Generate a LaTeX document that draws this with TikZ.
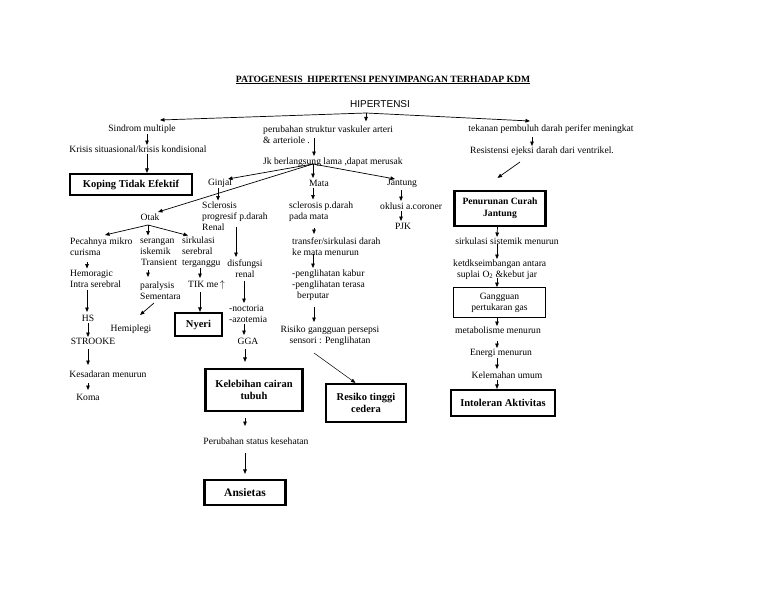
\documentclass[tikz,border=0pt]{standalone}
\usepackage{fontspec}
\setmainfont{Liberation Serif}
\newfontfamily\hipfont{Liberation Sans}
\usetikzlibrary{arrows.meta}
\begin{document}
\begin{tikzpicture}[x=1pt,y=-1pt,
  txt/.style={font=\fontsize{9.6}{11}\selectfont, inner sep=0pt, align=left},
  ctxt/.style={txt, align=center},
  kbox/.style={draw, line width=2.2pt, inner sep=0pt, align=center,
               font=\bfseries\fontsize{10.5}{11.5}\selectfont},
  tbox/.style={draw, line width=0.8pt, inner sep=0pt, align=center,
               font=\fontsize{9.6}{11}\selectfont},
  arr/.style={-{Triangle[length=4.5pt,width=3.6pt]}, line width=0.7pt}]
\useasboundingbox (0,0) rectangle (768,594);
\fill[white] (0,0) rectangle (768,594);

% ---------- title ----------
\node[font=\bfseries\fontsize{9.6}{11}\selectfont, inner sep=0pt] (title) at (383,80)
  {\underline{PATOGENESIS\ \ HIPERTENSI PENYIMPANGAN TERHADAP KDM}};
\node[font=\hipfont\fontsize{10}{12}\selectfont, inner sep=0pt] (hip) at (380,104) {HIPERTENSI};
\coordinate (apex) at (366,113);

% ---------- level 1 ----------
\node[txt] (sindrom) at (142,129) {Sindrom multiple};
\node[txt, anchor=west] (perubahan) at (263,134.5) {perubahan struktur vaskuler arteri\\\& arteriole .};
\node[txt] (tekanan) at (551,129) {tekanan pembuluh darah perifer meningkat};

\node[txt] (krisis) at (138,149) {Krisis situasional/krisis kondisional};
\node[txt, anchor=west] (jk) at (263,162) {Jk berlangsung lama ,dapat merusak};
\node[txt] (resist) at (542,151) {Resistensi ejeksi darah dari ventrikel.};

\node[kbox, minimum width=122, minimum height=21] (koping) at (131,184.5) {Koping Tidak Efektif};
\node[txt] (ginjal) at (220,183) {Ginjal};
\node[txt] (mata) at (319,183) {Mata};
\node[txt] (jantung) at (402,183) {Jantung};
\node[kbox, minimum width=91, minimum height=35, font=\bfseries\fontsize{9.6}{12}\selectfont] (penurunan) at (500,208.5) {Penurunan Curah\\Jantung};

% ---------- organs ----------
\node[txt] (otak) at (150,217) {Otak};
\node[txt, anchor=west] (sclerosis) at (202,216.5) {Sclerosis\\progresif p.darah\\Renal};
\node[txt, anchor=west] (sclmata) at (289,211.5) {sclerosis p.darah\\pada mata};
\node[txt, anchor=west] (oklusi) at (380,206) {oklusi a.coroner};
\node[txt] (pjk) at (403,226) {PJK};

\node[txt, anchor=west] (pecah) at (70,247) {Pecahnya mikro\\curisma};
\node[txt, anchor=west] (serangan) at (140,252.5) {serangan\\iskemik\\\hspace{1pt}Transient};
\node[txt, anchor=west] (sirkulasi) at (182,252.5) {sirkulasi\\serebral\\terganggu};
\node[ctxt] (disf) at (245,268.5) {disfungsi\\renal};
\node[txt, anchor=west] (transfer) at (292,246.5) {transfer/sirkulasi darah\\ke mata menurun};
\node[txt] (sirksis) at (507,241) {sirkulasi sistemik menurun};
\node[txt, anchor=west] (ketdk) at (453,269.5) {ketdkseimbangan antara\\\hspace{4pt}suplai O\textsubscript{2} \&kebut jar};

\node[txt, anchor=west] (hemo) at (70,278.5) {Hemoragic\\Intra serebral};
\node[txt, anchor=west] (paral) at (140,291) {paralysis\\Sementara};
\node[txt, anchor=west] (tik) at (188,285) {TIK me\,$\uparrow$};
\node[tbox, minimum width=92, minimum height=30] (gangguan) at (499.5,302.5) {Gangguan\\pertukaran gas};
\node[txt, anchor=west] (penglihatan) at (292,285) {-penglihatan kabur\\-penglihatan terasa\\\hspace{5pt}berputar};
\node[txt, anchor=west] (noct) at (229,313.5) {-noctoria\\-azotemia};

\node[txt] (hs) at (88,318) {HS};
\node[kbox, minimum width=47, minimum height=23] (nyeri) at (198.5,324.5) {Nyeri};
\node[txt] (hemi) at (131,329) {Hemiplegi};
\node[ctxt] (risiko) at (330,335.5) {Risiko gangguan persepsi\\sensori : Penglihatan};
\node[txt] (metab) at (498,330) {metabolisme menurun};
\node[txt] (stroke) at (93,341) {STROOKE};
\node[txt] (gga) at (248,341) {GGA};
\node[txt] (energi) at (501,353) {Energi menurun};
\node[txt] (kesadaran) at (108,374) {Kesadaran menurun};
\node[txt] (kelemahan) at (507,375) {Kelemahan umum};

\node[kbox, minimum width=97, minimum height=42] (kelebihan) at (254,390) {Kelebihan cairan\\tubuh};
\node[kbox, minimum width=80, minimum height=38] (resiko) at (366,403) {Resiko tinggi\\cedera};
\node[kbox, minimum width=104, minimum height=26] (intoleran) at (503,403) {Intoleran Aktivitas};
\node[txt] (koma) at (88,397) {Koma};
\node[txt] (perub) at (256,441) {Perubahan status kesehatan};
\node[kbox, minimum width=81, minimum height=25, font=\bfseries\fontsize{11.5}{13}\selectfont] (ansietas) at (245,492.5) {Ansietas};

% ---------- connectors ----------
\draw[arr] (apex) -- ([shift={(18,-9)}]sindrom.center);
\draw[arr] (apex) -- ([shift={(-21,-8)}]tekanan.center);
\draw[arr] (apex) -- ([shift={(103,-4)}]perubahan.north west);

\draw[arr] ([shift={(5,5)}]sindrom.center) -- ([shift={(9,-4)}]krisis.center);
\draw[arr] ([shift={(9,5)}]krisis.center) -- ([xshift=16]koping.north);

\draw[arr] ([shift={(51,3.5)}]perubahan.west) -- ([shift={(51,-6)}]jk.west);
\coordinate (jkfan) at ([shift={(50,2)}]jk.west);
\draw[arr] (jkfan) -- ([shift={(8,-4)}]ginjal.center);
\draw[arr] (jkfan) -- ([shift={(8,-5)}]otak.center);
\draw[arr] (jkfan) -- ([shift={(-6,-5)}]mata.center);
\draw[arr] (jkfan) -- ([shift={(-7,-4)}]jantung.center);

\draw[arr] ([shift={(-2,5)}]ginjal.center) -- ([shift={(16,-16)}]sclerosis.west);
\draw[arr] ([shift={(-6,5)}]mata.center) -- ([shift={(24,-12)}]sclmata.west);
\draw[arr] ([shift={(-1,7)}]jantung.center) -- ([shift={(21,-5)}]oklusi.west);
\draw[arr] ([shift={(21,5)}]oklusi.west) -- ([shift={(-2,-5)}]pjk.center);

\coordinate (otakfan) at ([shift={(-2,8)}]otak.center);
\draw[arr] (otakfan) -- ([shift={(35,-12)}]pecah.west);
\draw[arr] (otakfan) -- ([shift={(8,-17)}]serangan.west);
\draw[arr] (otakfan) -- ([shift={(6,-17)}]sirkulasi.west);

\draw[arr] ([shift={(17,15)}]pecah.west) -- ([shift={(17,-10)}]hemo.west);
\draw[arr] ([shift={(17,11.5)}]hemo.west) -- ([shift={(-1,-6)}]hs.center);
\draw[arr] ([shift={(0,5)}]hs.center) -- ([shift={(-5,-4)}]stroke.center);
\draw[arr] ([shift={(-5,8)}]stroke.center) -- ([shift={(-20,-9)}]kesadaran.center);
\draw[arr] ([shift={(-20,9)}]kesadaran.center) -- ([shift={(0,-7)}]koma.center);
\draw[arr] ([shift={(8,17.5)}]serangan.west) -- ([shift={(8,-14)}]paral.west);
\draw[arr] ([shift={(14,12)}]paral.west) -- ([shift={(9,-14)}]hemi.center);
\draw[arr] ([shift={(18,15.5)}]sirkulasi.west) -- ([shift={(12,-7)}]tik.west);
\draw[arr] ([shift={(12,7)}]tik.west) -- ([xshift=1.5]nyeri.north);

\draw[arr] ([shift={(34,10)}]sclerosis.west) -- ([shift={(-9,-11.5)}]disf.center);
\draw[arr] ([shift={(-1,12.5)}]disf.center) -- ([shift={(15,-10.5)}]noct.west);
\draw[arr] ([shift={(15,10.5)}]noct.west) -- ([shift={(-4,-6)}]gga.center);
\draw[arr] ([shift={(-3,8)}]gga.center) -- ([shift={(-9,-6)}]kelebihan.north);
\draw[arr] ([shift={(-9,6)}]kelebihan.south) -- ([shift={(-11,-15)}]perub.center);
\draw[arr] ([shift={(-11,12)}]perub.center) -- ([shift={(0,-5)}]ansietas.north);

\draw[arr] ([shift={(25,16.5)}]sclmata.west) -- ([shift={(22,-12.5)}]transfer.west);
\draw[arr] ([shift={(21,7.5)}]transfer.west) -- ([shift={(21,-17)}]penglihatan.west);
\draw[arr] ([shift={(22,22)}]penglihatan.west) -- ([shift={(-16,-13.5)}]risiko.center);
\draw[arr, line width=0.5pt] ([shift={(-16,17.5)}]risiko.center) -- ([xshift=-10.5]resiko.north);

\draw[arr] ([shift={(-19,8)}]tekanan.center) -- ([shift={(-10,-5)}]resist.center);
\draw[arr] ([shift={(-22,11)}]resist.center) -- ([shift={(-2.5,-12)}]penurunan.north);
\draw[arr] ([xshift=-2.5]penurunan.south) -- ([shift={(-10,-4)}]sirksis.center);
\draw[arr] ([shift={(-10,3)}]sirksis.center) -- ([shift={(44,-10.5)}]ketdk.west);
\draw[arr] ([shift={(44,8.5)}]ketdk.west) -- ([xshift=-2.5]gangguan.north);
\draw[arr] ([xshift=-2.5]gangguan.south) -- ([shift={(-1,-4)}]metab.center);
\draw[arr] ([shift={(-1,11)}]metab.center) -- ([shift={(-4,-5)}]energi.center);
\draw[arr] ([shift={(-4,5)}]energi.center) -- ([shift={(-10,-6)}]kelemahan.center);
\draw[arr] ([shift={(-10,5)}]kelemahan.center) -- ([xshift=-6]intoleran.north);
\end{tikzpicture}
\end{document}
